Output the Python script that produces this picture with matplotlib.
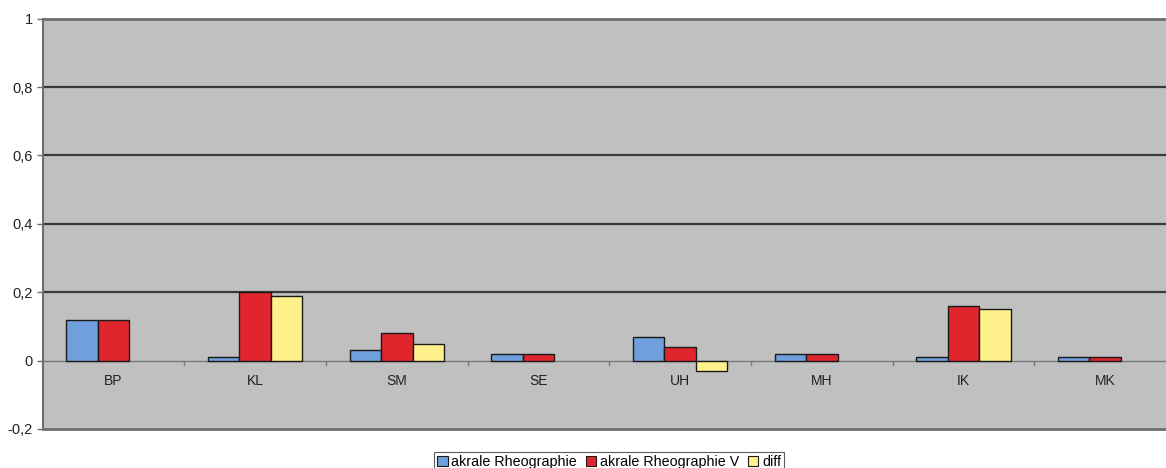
import numpy as np
import matplotlib
matplotlib.use("Agg")
import matplotlib.pyplot as plt
from matplotlib.patches import Patch
from matplotlib.ticker import FixedLocator, FuncFormatter

plt.rcParams["font.family"] = ["Liberation Sans", "DejaVu Sans"]

categories = ["BP", "KL", "SM", "SE", "UH", "MH", "IK", "MK"]
series_names = ["akrale Rheographie", "akrale Rheographie V", "diff"]
akrale = [0.12, 0.01, 0.03, 0.02, 0.07, 0.02, 0.01, 0.01]
akrale_v = [0.12, 0.20, 0.08, 0.02, 0.04, 0.02, 0.16, 0.01]
diff = [0.00, 0.19, 0.05, 0.00, -0.03, 0.00, 0.15, 0.00]
y_ticks = [-0.2, 0.0, 0.2, 0.4, 0.6, 0.8, 1.0]

colors = ["#6f9fdc", "#e0262c", "#fff28c"]
edge = "#1a1a1a"

W, H = 1166, 468
fig = plt.figure(figsize=(W / 100, H / 100), dpi=100)
fig.patch.set_facecolor("white")

left, right, top, bottom = 42.7, 1176.0, 18.7, 429.0
ax = fig.add_axes([left / W, 1 - bottom / H, (right - left) / W, (bottom - top) / H])
ax.set_facecolor("#c0c0c0")

n = len(categories)
x = np.arange(n)
bar_w = 1 / 4.5
for i, (vals, c) in enumerate(zip([akrale, akrale_v, diff], colors)):
    vals = np.asarray(vals)
    lw = np.where(vals == 0, 0.0, 1.0)
    ax.bar(x + (i - 1) * bar_w, vals, width=bar_w, color=c, edgecolor=edge,
           linewidth=lw, zorder=3)

ax.set_xlim(-0.5, n - 0.5)
ax.set_ylim(-0.2, 1.0)

# horizontal gridlines
for yv in y_ticks:
    if yv in (-0.2, 1.0, 0.0):
        continue
    ax.axhline(yv, color="#3a3a3a", linewidth=1.6, zorder=1)
# zero axis line with category separators
ax.axhline(0, color="#7a7a7a", linewidth=1.0, zorder=2)
for b in np.arange(0.5, n - 0.5, 1.0):
    ax.plot([b, b], [0, -0.012], color="#7a7a7a", linewidth=1.0, zorder=2, clip_on=False)

for side in ["top", "bottom"]:
    ax.spines[side].set_color("#6e6e6e")
    ax.spines[side].set_linewidth(2.0)
ax.spines["left"].set_color("#6e6e6e")
ax.spines["left"].set_linewidth(1.5)
ax.spines["right"].set_visible(False)

ax.yaxis.set_major_locator(FixedLocator(y_ticks))
ax.yaxis.set_major_formatter(FuncFormatter(lambda v, p: ("%g" % round(v, 1)).replace(".", ",")))
ax.tick_params(axis="y", length=4, width=1, color="#6e6e6e", labelsize=10.5, pad=3,
               labelcolor="#222222")
ax.set_xticks([])

for xi, lab in zip(x, categories):
    ax.text(xi, -0.06, lab, ha="center", va="center", fontsize=10, color="#222222")

handles = [Patch(facecolor=c, edgecolor=edge, linewidth=0.8, label=name)
           for c, name in zip(colors, series_names)]
leg = fig.legend(handles=handles, loc="upper center", bbox_to_anchor=(609 / W, 1 - 452 / H),
                 ncol=3, fontsize=10.3, frameon=True, fancybox=False, edgecolor="#333333",
                 handlelength=0.75, handleheight=0.75, handletextpad=0.25,
                 columnspacing=0.6, borderpad=0.2, borderaxespad=0)
leg.get_frame().set_linewidth(0.8)

fig.savefig("out.png", dpi=100, facecolor="white")
